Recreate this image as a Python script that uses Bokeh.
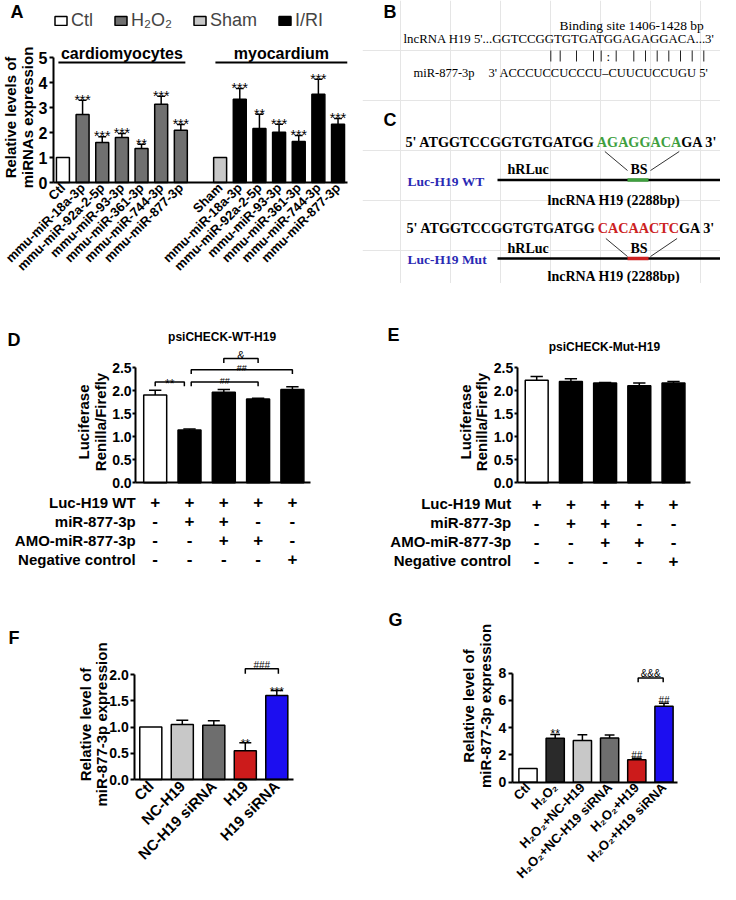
import math
from bokeh.plotting import figure
from bokeh.models import (Range1d, FixedTicker, ColumnDataSource, PrintfTickFormatter,
                          Legend, LegendItem)
from bokeh.layouts import row, column
from bokeh.embed import file_html
from bokeh.resources import INLINE
from bokeh.core.properties import value

SANS = "Liberation Sans"
SERIF = "Liberation Serif"

# ---------------------------------------------------------------- data
# Panel A
a_cardio_names = ["Ctl", "mmu-miR-18a-3p", "mmu-miR-92a-2-5p", "mmu-miR-93-3p",
                  "mmu-miR-361-3p", "mmu-miR-744-3p", "mmu-miR-877-3p"]
a_cardio_values = [1.00, 2.72, 1.60, 1.80, 1.36, 3.13, 2.09]
a_cardio_sem = [0.00, 0.57, 0.23, 0.16, 0.17, 0.32, 0.23]
a_cardio_sig = ["", "***", "***", "***", "**", "***", "***"]
a_myo_names = ["Sham", "mmu-miR-18a-3p", "mmu-miR-92a-2-5p", "mmu-miR-93-3p",
               "mmu-miR-361-3p", "mmu-miR-744-3p", "mmu-miR-877-3p"]
a_myo_values = [1.00, 3.33, 2.16, 2.01, 1.64, 3.53, 2.33]
a_myo_sem = [0.00, 0.43, 0.57, 0.32, 0.24, 0.60, 0.23]
a_myo_sig = ["", "***", "**", "***", "***", "***", "***"]
a_legend = ["Ctl", "H\u2082O\u2082", "Sham", "I/RI"]
a_legend_colors = ["white", "#707070", "#c8c8c8", "black"]
a_groups = ["cardiomyocytes", "myocardium"]
a_ylabel = ["Relative levels of", "miRNAs expression"]
a_yticks = [0, 1, 2, 3, 4, 5]

# Panel B
b_title = "Binding site 1406-1428 bp"
b_lnc = "lncRNA H19 5'...GGTCCGGTGTGATGGAGAGGACA...3'"
b_pairs = ["|", "|", "|", "|", "|", ":", "|", "|", "|", "|", "|", "|", "|", "|"]
b_mir_name = "miR-877-3p"
b_mir_seq = "3' ACCCUCCUCCCU\u2013CUUCUCCUGU 5'"

# Panel C
c_wt_parts = ["5' ATGGTCCGGTGTGATGG", "AGAGGACA", "GA 3'"]
c_mut_parts = ["5' ATGGTCCGGTGTGATGG", "CACAACTC", "GA 3'"]
c_names = ["Luc-H19 WT", "Luc-H19 Mut"]
c_gene = "lncRNA H19 (2288bp)"

# Panel D / E
de_rows_d = ["Luc-H19 WT", "miR-877-3p", "AMO-miR-877-3p", "Negative control"]
de_rows_e = ["Luc-H19 Mut", "miR-877-3p", "AMO-miR-877-3p", "Negative control"]
de_table = [["+", "+", "+", "+", "+"],
            ["-", "+", "+", "-", "-"],
            ["-", "-", "+", "+", "-"],
            ["-", "-", "-", "-", "+"]]
de_ylabel = ["Luciferase", "Renilla/Firefly"]
d_title = "psiCHECK-WT-H19"
e_title = "psiCHECK-Mut-H19"
d_values = [1.91, 1.15, 1.97, 1.82, 2.03]
d_sem = [0.10, 0.02, 0.06, 0.02, 0.06]
d_colors = ["white", "black", "black", "black", "black"]
d_br_from = [0.0, 1.05, 1.05, 2.0]
d_br_to = [0.85, 3.0, 4.0, 3.0]
d_br_y = [2.19, 2.19, 2.46, 2.70]
d_br_text = ["**", "##", "##", "&"]
e_values = [2.23, 2.20, 2.17, 2.11, 2.17]
e_sem = [0.08, 0.06, 0.01, 0.06, 0.03]
e_colors = ["white", "black", "black", "black", "black"]
de_yticks = [0, 0.5, 1.0, 1.5, 2.0, 2.5]

# Panel F
f_names = ["Ctl", "NC-H19", "NC-H19 siRNA", "H19", "H19 siRNA"]
f_values = [1.00, 1.05, 1.035, 0.55, 1.60]
f_sem = [0.00, 0.08, 0.085, 0.15, 0.095]
f_sig = ["", "", "", "**", "***"]
f_colors = ["white", "#c8c8c8", "#6e6e6e", "#cc1b1b", "#1c0ef0"]
f_br_from, f_br_to, f_br_y, f_br_text = [3.0], [4.05], [2.11], ["###"]
fg_ylabel = ["Relative level of", "miR-877-3p expression"]
f_yticks = [0, 0.5, 1.0, 1.5, 2.0]

# Panel G
g_names = ["Ctl", "H\u2082O\u2082", "H\u2082O\u2082+NC-H19", "H\u2082O\u2082+NC-H19 siRNA",
           "H\u2082O\u2082+H19", "H\u2082O\u2082+H19 siRNA"]
g_values = [1.00, 3.22, 3.06, 3.25, 1.64, 5.57]
g_sem = [0.00, 0.28, 0.43, 0.22, 0.12, 0.22]
g_sig = ["", "**", "", "", "##", "##"]
g_colors = ["white", "#2a2a2a", "#c8c8c8", "#6e6e6e", "#cc1b1b", "#1c0ef0"]
g_br_from, g_br_to, g_br_y, g_br_text = [4.05], [4.97], [7.65], ["&&&"]
g_yticks = [0, 2, 4, 6, 8]


# ---------------------------------------------------------------- helpers
class Geo:
    """Full-frame figure placed at page origin (ox, oy).  Data value x_at lies at page
    pixel X, sx px per unit; data value y_at lies at page pixel Y (from top), sy px per unit."""

    def __init__(self, ox, oy, W, H, x_at, X, sx, y_at, Y, sy):
        self.ox, self.oy, self.W, self.H, self.sx, self.sy = ox, oy, W, H, sx, sy
        px, py = X - ox, Y - oy
        self.x0 = x_at - px / sx
        self.x1 = x_at + (W - px) / sx
        self.y0 = y_at - (H - py) / sy
        self.y1 = y_at + py / sy

    def x(self, X):
        return self.x0 + (X - self.ox) / self.sx

    def y(self, Y):
        return self.y1 - (Y - self.oy) / self.sy

    def dx(self, px):
        return px / self.sx

    def dy(self, px):
        return px / self.sy


def make_fig(g):
    p = figure(width=g.W, height=g.H, x_range=Range1d(g.x0, g.x1), y_range=Range1d(g.y0, g.y1),
               min_border=0, output_backend="svg", toolbar_location=None)
    p.outline_line_color = None
    p.xgrid.visible = False
    p.ygrid.visible = False
    p.background_fill_color = "white"
    p.border_fill_color = "white"
    return p


def style_axes(p, y_axis_x, x_end, yticks, ybounds, yfmt, tick_size,
               tick_out=4, tick_standoff=2):
    xa, ya = p.xaxis[0], p.yaxis[0]
    for ax in (xa, ya):
        ax.axis_line_width = 2
        ax.axis_line_color = "black"
        ax.major_tick_line_width = 2
        ax.major_tick_line_color = "black"
        ax.minor_tick_line_color = None
        ax.major_label_text_font = SANS
        ax.major_label_text_font_style = "bold"
        ax.major_label_text_color = "black"
    ya.fixed_location = y_axis_x
    ya.ticker = FixedTicker(ticks=yticks)
    ya.bounds = ybounds
    if yfmt:
        ya.formatter = PrintfTickFormatter(format=yfmt)
    ya.major_tick_out = tick_out
    ya.major_tick_in = 0
    ya.major_label_standoff = tick_standoff
    ya.major_label_text_font_size = f"{tick_size}px"
    xa.fixed_location = 0
    xa.bounds = (y_axis_x, x_end)
    xa.major_tick_out = 0
    xa.major_tick_in = 0
    xa.major_tick_line_color = None
    xa.ticker = FixedTicker(ticks=[])


def set_xlabels(p, names, positions, size, standoff=3):
    xa = p.xaxis[0]
    xa.ticker = FixedTicker(ticks=positions)
    xa.major_label_overrides = {pos: nm for pos, nm in zip(positions, names)}
    xa.major_label_orientation = math.pi / 4
    xa.major_label_text_font_size = f"{size}px"
    xa.major_label_standoff = standoff


def add_bars(p, xs, vals, colors, width):
    src = ColumnDataSource(dict(x=xs, top=vals, color=colors))
    return p.vbar(x="x", top="top", bottom=0, width=width, fill_color="color",
                  line_color="black", line_width=1.5, source=src)


def add_errorbars(p, xs, vals, sems, half):
    ex = [x for x, s in zip(xs, sems) if s > 0]
    lo = [v for v, s in zip(vals, sems) if s > 0]
    hi = [v + s for v, s in zip(vals, sems) if s > 0]
    p.segment(x0=ex, y0=lo, x1=ex, y1=hi, line_color="black", line_width=1.5)
    p.segment(x0=[x - half for x in ex], y0=hi, x1=[x + half for x in ex], y1=hi,
              line_color="black", line_width=1.5)


def add_text(p, xs, ys, texts, size, bold=False, align="center", baseline="alphabetic",
             color="black", font=SANS, angle=0.0):
    p.text(x=xs, y=ys, text=texts, text_font=value(font), text_font_size=f"{size}px",
           text_font_style="bold" if bold else "normal", text_align=align,
           text_baseline=baseline, text_color=color, angle=angle)


def add_sig(p, g, xs, vals, sems, sigs, size, offset_px):
    sx = [x for x, s in zip(xs, sigs) if s]
    sy = [v + e + g.dy(offset_px) for v, e, s in zip(vals, sems, sigs) if s]
    st = [s for s in sigs if s]
    add_text(p, sx, sy, st, size)


def add_brackets(p, g, x0s, x1s, ys, texts, drop_px, text_sizes, text_offsets):
    xs = [[a, a, b, b] for a, b in zip(x0s, x1s)]
    yy = [[y - g.dy(drop_px), y, y, y - g.dy(drop_px)] for y in ys]
    p.multi_line(xs, yy, line_color="black", line_width=1.5)
    for a, b, y, t, s, o in zip(x0s, x1s, ys, texts, text_sizes, text_offsets):
        add_text(p, [(a + b) / 2], [y + g.dy(o)], [t], s)


def add_ylabel(p, g, lines, X_list, Y, size=15):
    add_text(p, [g.x(X) for X in X_list], [g.y(Y)] * len(lines), lines, size, bold=True,
             baseline="middle", angle=math.pi / 2)


def panel_letter(p, g, letter, X, Y, size=18):
    add_text(p, [g.x(X)], [g.y(Y)], [letter], size, bold=True, align="left", baseline="top")


def add_table(p, g, rows, label_x, first_px, size_cells=17, size_rows=15):
    cx, cy, ct = [], [], []
    for i, r in enumerate(de_table):
        for j, t in enumerate(r):
            cx.append(j)
            cy.append(-g.dy(first_px + 19 * i))
            ct.append(t)
    add_text(p, cx, cy, ct, size_cells, bold=True, baseline="middle")
    ry = [-g.dy(first_px + 19 * i) for i in range(len(rows))]
    add_text(p, [label_x] * len(rows), ry, rows, size_rows, bold=True, align="right",
             baseline="middle")


ROW1_H, ROW2_H, ROW3_H = 283, 292, 309
LEFT_W, RIGHT_W = 362, 358

# ---------------------------------------------------------------- Panel A
gA = Geo(0, 0, LEFT_W, ROW1_H, -0.48, 53, 19.65, 0, 182, 25)
pA = make_fig(gA)
a_x_cardio = list(range(len(a_cardio_names)))
a_x_myo = [len(a_cardio_names) + 1 + i for i in range(len(a_myo_names))]
a_xs = a_x_cardio + a_x_myo
a_vals = a_cardio_values + a_myo_values
a_sems = a_cardio_sem + a_myo_sem
a_sigs = a_cardio_sig + a_myo_sig
a_grp = ([a_legend[0]] + [a_legend[1]] * (len(a_cardio_names) - 1) +
         [a_legend[2]] + [a_legend[3]] * (len(a_myo_names) - 1))
a_col = [a_legend_colors[a_legend.index(gname)] for gname in a_grp]
rA = add_bars(pA, a_xs, a_vals, a_col, 0.66)
add_errorbars(pA, a_xs, a_vals, a_sems, 0.2)
add_sig(pA, gA, a_xs, a_vals, a_sems, a_sigs, 14, 0.5)
style_axes(pA, -0.48, 14.49, a_yticks, (0, 5), None, 16, tick_out=4, tick_standoff=2)
set_xlabels(pA, a_cardio_names + a_myo_names, a_xs, 13, standoff=3)
add_ylabel(pA, gA, a_ylabel, [10, 26.5], 117, 15)
grp_x0 = [a_x_cardio[0] - 0.23, a_x_myo[0] - 0.24]
grp_x1 = [a_x_cardio[-1] + 0.23, a_x_myo[-1] + 0.47]
grp_y = 4.8
pA.segment(x0=grp_x0, y0=[grp_y] * 2, x1=grp_x1, y1=[grp_y] * 2, line_color="black", line_width=2)
add_text(pA, [(a + b) / 2 for a, b in zip(grp_x0, grp_x1)], [grp_y + gA.dy(1)] * 2, a_groups, 16,
         bold=True, baseline="bottom")
leg_index = [a_grp.index(name) for name in a_legend]
legA = Legend(items=[LegendItem(label=name, renderers=[rA], index=i)
                     for name, i in zip(a_legend, leg_index)],
              location=(53, ROW1_H - 31), orientation="horizontal")
legA.border_line_color = None
legA.background_fill_alpha = 0
legA.padding = 0
legA.margin = 0
legA.spacing = 20
legA.glyph_width = 15
legA.glyph_height = 11
legA.label_standoff = 3
legA.label_text_font = SANS
legA.label_text_font_size = "18px"
legA.label_height = 20
pA.add_layout(legA)
panel_letter(pA, gA, "A", 10, 1)

# ---------------------------------------------------------------- Panel B / C
# data coordinates = page pixels
pBC = figure(width=RIGHT_W, height=ROW1_H, x_range=Range1d(LEFT_W, LEFT_W + RIGHT_W),
             y_range=Range1d(ROW1_H, 0), x_axis_location=None, y_axis_location=None,
             min_border=0, output_backend="svg", toolbar_location=None)
pBC.outline_line_color = None
pBC.background_fill_color = "white"
pBC.border_fill_color = "white"
add_text(pBC, [383], [1], ["B"], 18, bold=True, align="left", baseline="top")
add_text(pBC, [559], [25], [b_title], 13.5, align="left", baseline="middle", font=SERIF)
add_text(pBC, [403], [38], [b_lnc], 12.8, align="left", baseline="middle", font=SERIF)
pair_x = [550.3, 559.7, 576, 593, 600.7, 607.7, 615.7, 633.3, 645, 656.7, 668.3, 680, 691.7, 703.3]
bar_x = [x for x, c in zip(pair_x, b_pairs) if c == "|"]
pBC.segment(x0=bar_x, y0=[50] * len(bar_x), x1=bar_x, y1=[61] * len(bar_x),
            line_color="#222222", line_width=1)
colon_x = [x for x, c in zip(pair_x, b_pairs) if c == ":"]
add_text(pBC, colon_x, [56] * len(colon_x), [":"] * len(colon_x), 13, baseline="middle", font=SERIF)
add_text(pBC, [413], [72], [b_mir_name], 12.5, align="left", baseline="middle", font=SERIF)
add_text(pBC, [488], [72], [b_mir_seq], 12.5, align="left", baseline="middle", font=SERIF)
add_text(pBC, [383], [109], ["C"], 18, bold=True, align="left", baseline="top")

TB = {"A": 0.722, "C": 0.722, "G": 0.778, "T": 0.667, " ": 0.25, "5": 0.5, "3": 0.5, "'": 0.278}


def tw(s, size):
    return sum(TB.get(ch, 0.6) for ch in s) * size


SEQ = 14.2


def construct(parts, color, name, x0, y_seq, y_lab, y_line, y_gene, d_top, d_bot):
    xs = [x0, x0 + tw(parts[0], SEQ), x0 + tw(parts[0], SEQ) + tw(parts[1], SEQ)]
    for xx, part, col in zip(xs, parts, ["black", color, "black"]):
        add_text(pBC, [xx], [y_seq], [part], SEQ, bold=True, align="left", baseline="middle",
                 font=SERIF, color=col)
    bs0, bs1 = 627, 648
    pBC.segment(x0=[xs[1] + 8, xs[2] - 2], y0=[d_top, d_top], x1=[bs0, bs1 + 2], y1=[d_bot, d_bot],
                line_color="#333333", line_width=1)
    pBC.segment(x0=[497], y0=[y_line], x1=[736], y1=[y_line], line_color="black", line_width=2.5)
    pBC.segment(x0=[bs0], y0=[y_line], x1=[bs1], y1=[y_line], line_color=color, line_width=3.5)
    add_text(pBC, [507], [y_lab], ["hRLuc"], 14, bold=True, align="left", baseline="middle", font=SERIF)
    add_text(pBC, [(bs0 + bs1) / 2 + 1], [y_lab], ["BS"], 14, bold=True, baseline="middle", font=SERIF)
    add_text(pBC, [407], [y_line + 1], [name], 13.5, bold=True, align="left", baseline="middle",
             font=SERIF, color="#2a2ab4")
    add_text(pBC, [613.5], [y_gene], [c_gene], 14, bold=True, baseline="middle", font=SERIF)


construct(c_wt_parts, "#3f9f3f", c_names[0], 405, 141, 169, 179.5, 200, 151, 170)
construct(c_mut_parts, "#cc2222", c_names[1], 406, 227, 248, 258, 276, 238, 256)

# ---------------------------------------------------------------- Panel D
gD = Geo(0, ROW1_H, LEFT_W, ROW2_H, 0, 154.7, 34.3, 0, 482.3, 46)
pD = make_fig(gD)
de_x = list(range(len(d_values)))
add_bars(pD, de_x, d_values, d_colors, 0.67)
add_errorbars(pD, de_x, d_values, d_sem, 0.18)
add_brackets(pD, gD, d_br_from, d_br_to, d_br_y, d_br_text, 4.3, [12, 9, 9, 11], [-2.0, 1.5, 1.8, 4.0])
style_axes(pD, -0.57, 4.53, de_yticks, (0, 2.5), "%.1f", 14, tick_out=3, tick_standoff=1)
add_ylabel(pD, gD, de_ylabel, [82.5, 99.5], 421.5, 15)
add_text(pD, [1.95], [gD.y(336)], [d_title], 12, bold=True, baseline="middle")
panel_letter(pD, gD, "D", 7, 329)
add_table(pD, gD, de_rows_d, -0.57, 19.4)

# ---------------------------------------------------------------- Panel E
gE = Geo(LEFT_W, ROW1_H, RIGHT_W, ROW2_H, 0, 536.2, 34.2, 0, 482.3, 46)
pE = make_fig(gE)
add_bars(pE, de_x, e_values, e_colors, 0.67)
add_errorbars(pE, de_x, e_values, e_sem, 0.18)
style_axes(pE, -0.57, 4.50, de_yticks, (0, 2.5), "%.1f", 14, tick_out=3, tick_standoff=1)
add_ylabel(pE, gE, de_ylabel, [464.5, 480.5], 421.5, 15)
add_text(pE, [1.98], [gE.y(346)], [e_title], 12, bold=True, baseline="middle")
panel_letter(pE, gE, "E", 387, 324)
add_table(pE, gE, de_rows_e, -0.57 - gE.dx(6), 21)

# ---------------------------------------------------------------- Panel F
gF = Geo(0, ROW1_H + ROW2_H, LEFT_W, ROW3_H, 0, 150.3, 31.5, 0, 779, 52.5)
pF = make_fig(gF)
f_x = list(range(len(f_values)))
add_bars(pF, f_x, f_values, f_colors, 0.70)
add_errorbars(pF, f_x, f_values, f_sem, 0.19)
add_sig(pF, gF, f_x, f_values, f_sem, f_sig, 12, -1.0)
add_brackets(pF, gF, f_br_from, f_br_to, f_br_y, f_br_text, 5, [10], [3.0])
style_axes(pF, -0.51, 4.52, f_yticks, (0, 2.0), "%.1f", 14, tick_out=4, tick_standoff=2)
set_xlabels(pF, f_names, f_x, 15, standoff=4)
add_ylabel(pF, gF, fg_ylabel, [84.5, 100.5], 724, 15)
panel_letter(pF, gF, "F", 8, 627)

# ---------------------------------------------------------------- Panel G
gG = Geo(LEFT_W, ROW1_H + ROW2_H, RIGHT_W, ROW3_H, 0, 527.5, 27.2, 0, 781.7, 13.625)
pG = make_fig(gG)
g_x = list(range(len(g_values)))
add_bars(pG, g_x, g_values, g_colors, 0.67)
add_errorbars(pG, g_x, g_values, g_sem, 0.18)
add_sig(pG, gG, g_x, g_values, g_sem, [s if s == "**" else "" for s in g_sig], 12, 1.0)
add_sig(pG, gG, g_x, g_values, g_sem, [s if s == "##" else "" for s in g_sig], 10, 2.5)
add_brackets(pG, gG, g_br_from, g_br_to, g_br_y, g_br_text, 4.3, [10], [4.5])
style_axes(pG, -0.58, 5.49, g_yticks, (0, 8), None, 14, tick_out=4, tick_standoff=2)
set_xlabels(pG, g_names, g_x, 13, standoff=3)
add_ylabel(pG, gG, fg_ylabel, [468, 485], 705.5, 15)
panel_letter(pG, gG, "G", 388, 609)

layout = column(row(pA, pBC), row(pD, pE), row(pF, pG))
open("out.html", "w").write(file_html(layout, INLINE))
